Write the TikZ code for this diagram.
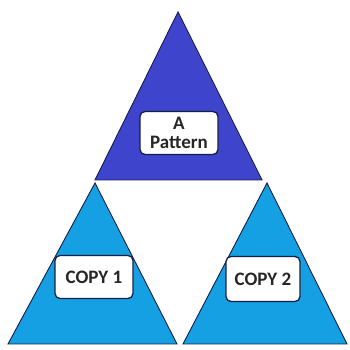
\documentclass[tikz,border=0pt]{standalone}
\usepackage{fontspec}
\setmainfont{Carlito}
\usepackage{xcolor}
\usetikzlibrary{positioning}

\definecolor{patternblue}{RGB}{63,68,204}
\definecolor{copyblue}{RGB}{20,160,226}
\definecolor{edgeblue}{RGB}{20,30,70}

\begin{document}
\begin{tikzpicture}[
    x=1pt, y=1pt,
    tri/.style={draw=edgeblue, line width=0.9pt, line join=miter},
    label/.style={rectangle, rounded corners=5pt, draw=edgeblue, line width=1.3pt, fill=white, align=center, font=\fontsize{19}{19}\selectfont\bfseries, text=black!85, inner sep=0pt}
]
\useasboundingbox (0,0) rectangle (349,350);

% Pattern triangle
\coordinate (pl) at (95,170);
\coordinate (pr) at (262,170);
\coordinate (pt) at (178,338);
\filldraw[tri, fill=patternblue] (pl) -- (pr) -- (pt) -- cycle;

% Copy triangles
\coordinate (al) at (8,6);
\coordinate (ar) at (177,6);
\coordinate (at) at (95,167);
\filldraw[tri, fill=copyblue] (al) -- (ar) -- (at) -- cycle;

\coordinate (bl) at (183,6);
\coordinate (br) at (347,6);
\coordinate (bt) at (267,167);
\filldraw[tri, fill=copyblue] (bl) -- (br) -- (bt) -- cycle;

% Labels
\node[label, minimum width=78pt, minimum height=43pt] (pattern) at (179,217) {A\\Pattern};
\node[label, minimum width=78pt, minimum height=43pt] (copya) at (94,73) {COPY 1};
\node[label, minimum width=74pt, minimum height=45pt] (copyb) at (263,71) {COPY 2};

\end{tikzpicture}
\end{document}
